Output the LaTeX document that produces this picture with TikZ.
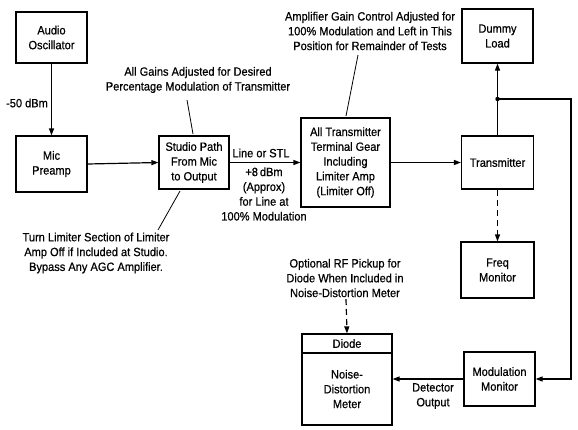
\documentclass[tikz,border=0pt]{standalone}
\usepackage{fontspec}
\setmainfont{Liberation Sans}[FakeStretch=0.92,FakeBold=0.6]
\usetikzlibrary{arrows.meta,calc}
\begin{document}
\begin{tikzpicture}[x=1pt,y=-1pt,
  every node/.style={font=\fontsize{12}{14.8}\selectfont},
  blk/.style={draw,line width=1.2pt,align=center,inner sep=0pt},
  txt/.style={align=center,inner sep=0pt},
  conn/.style={line width=1.2pt},
  arr/.style={conn,-{Triangle[length=7pt,width=5pt]}},
  dsh/.style={dash pattern=on 6pt off 4pt},
  ptr/.style={line width=0.8pt}]
\useasboundingbox (0,0) rectangle (578,429);
% blocks
\node[blk,minimum width=71,minimum height=51] (osc) at (51.5,37.5) {Audio\\Oscillator};
\node[blk,minimum width=71,minimum height=56] (pre) at (51.5,164) {Mic\\Preamp};
\node[blk,minimum width=70,minimum height=53] (studio) at (194,162.5) {Studio Path\\From Mic\\to Output};
\node[blk,minimum width=89,minimum height=89] (term) at (345.5,162.5) {All Transmitter\\Terminal Gear\\Including\\Limiter Amp\\(Limiter Off)};
\node[blk,minimum width=72,minimum height=53] (tx) at (497.5,162.5) {Transmitter};
\node[blk,minimum width=71,minimum height=54] (dummy) at (497.5,36) {Dummy\\Load};
\node[blk,minimum width=73,minimum height=56] (freq) at (497.5,270) {Freq\\Monitor};
\node[blk,minimum width=71,minimum height=54] (modmon) at (499.5,379) {Modulation\\Monitor};
\node[blk,minimum width=90,minimum height=91] (ndm) at (347,379.5) {};
\node[blk,minimum width=90,minimum height=19,anchor=north] (diode) at (ndm.north) {Diode};
\node[txt] (ndmtext) at (347,389) {Noise-\\Distortion\\Meter};
% labels
\node[txt] (dbm) at (27,103) {-50 dBm};
\node[txt] (gains) at (198,80) {All Gains Adjusted for Desired\\Percentage Modulation of Transmitter};
\node[txt] (limiter) at (96,253) {Turn Limiter Section of Limiter\\Amp Off if Included at Studio.\\Bypass Any AGC Amplifier.};
\node[txt] (stl) at (261,153) {Line or STL};
\node[txt] (plus8) at (264,194) {+8\,dBm\\(Approx)\\for Line at\\100\% Modulation};
\node[txt] (ampgain) at (370,31) {Amplifier Gain Control Adjusted for\\100\% Modulation and Left in This\\Position for Remainder of Tests};
\node[txt] (rf) at (345,278) {Optional RF Pickup for\\Diode When Included in\\Noise-Distortion Meter};
\node[txt] (det) at (433,396) {Detector\\Output};
% pointer coordinates
\coordinate (p1a) at (187,100);
\coordinate (p1b) at (193,134);
\coordinate (p2a) at (180,191);
\coordinate (p2b) at (158,230);
\coordinate (p3a) at (358,55);
\coordinate (p3b) at (346,116);
\coordinate (rfa) at (346,299);
\coordinate (j) at (497.5,99);
\coordinate (r) at (571,99);
% connectors
\draw[arr] (osc.south) -- (pre.north);
\draw[arr] (pre.east) -- (studio.west);
\draw[arr] (studio.east) -- (term.west);
\draw[arr] (term.east) -- (tx.west);
\draw[arr] (tx.north) -- (dummy.south);
\draw[arr,dsh] (tx.south) -- (freq.north);
\draw[arr] (j) -- (r) |- (modmon.east);
\fill (j) circle (2.2);
\draw[arr] (modmon.west) -- (modmon.west -| ndm.east);
\draw[arr,dsh] (rfa) -- (diode.north);
\draw[ptr] (p1a) -- (p1b);
\draw[ptr] (p2a) -- (p2b);
\draw[ptr] (p3a) -- (p3b);
\end{tikzpicture}
\end{document}
